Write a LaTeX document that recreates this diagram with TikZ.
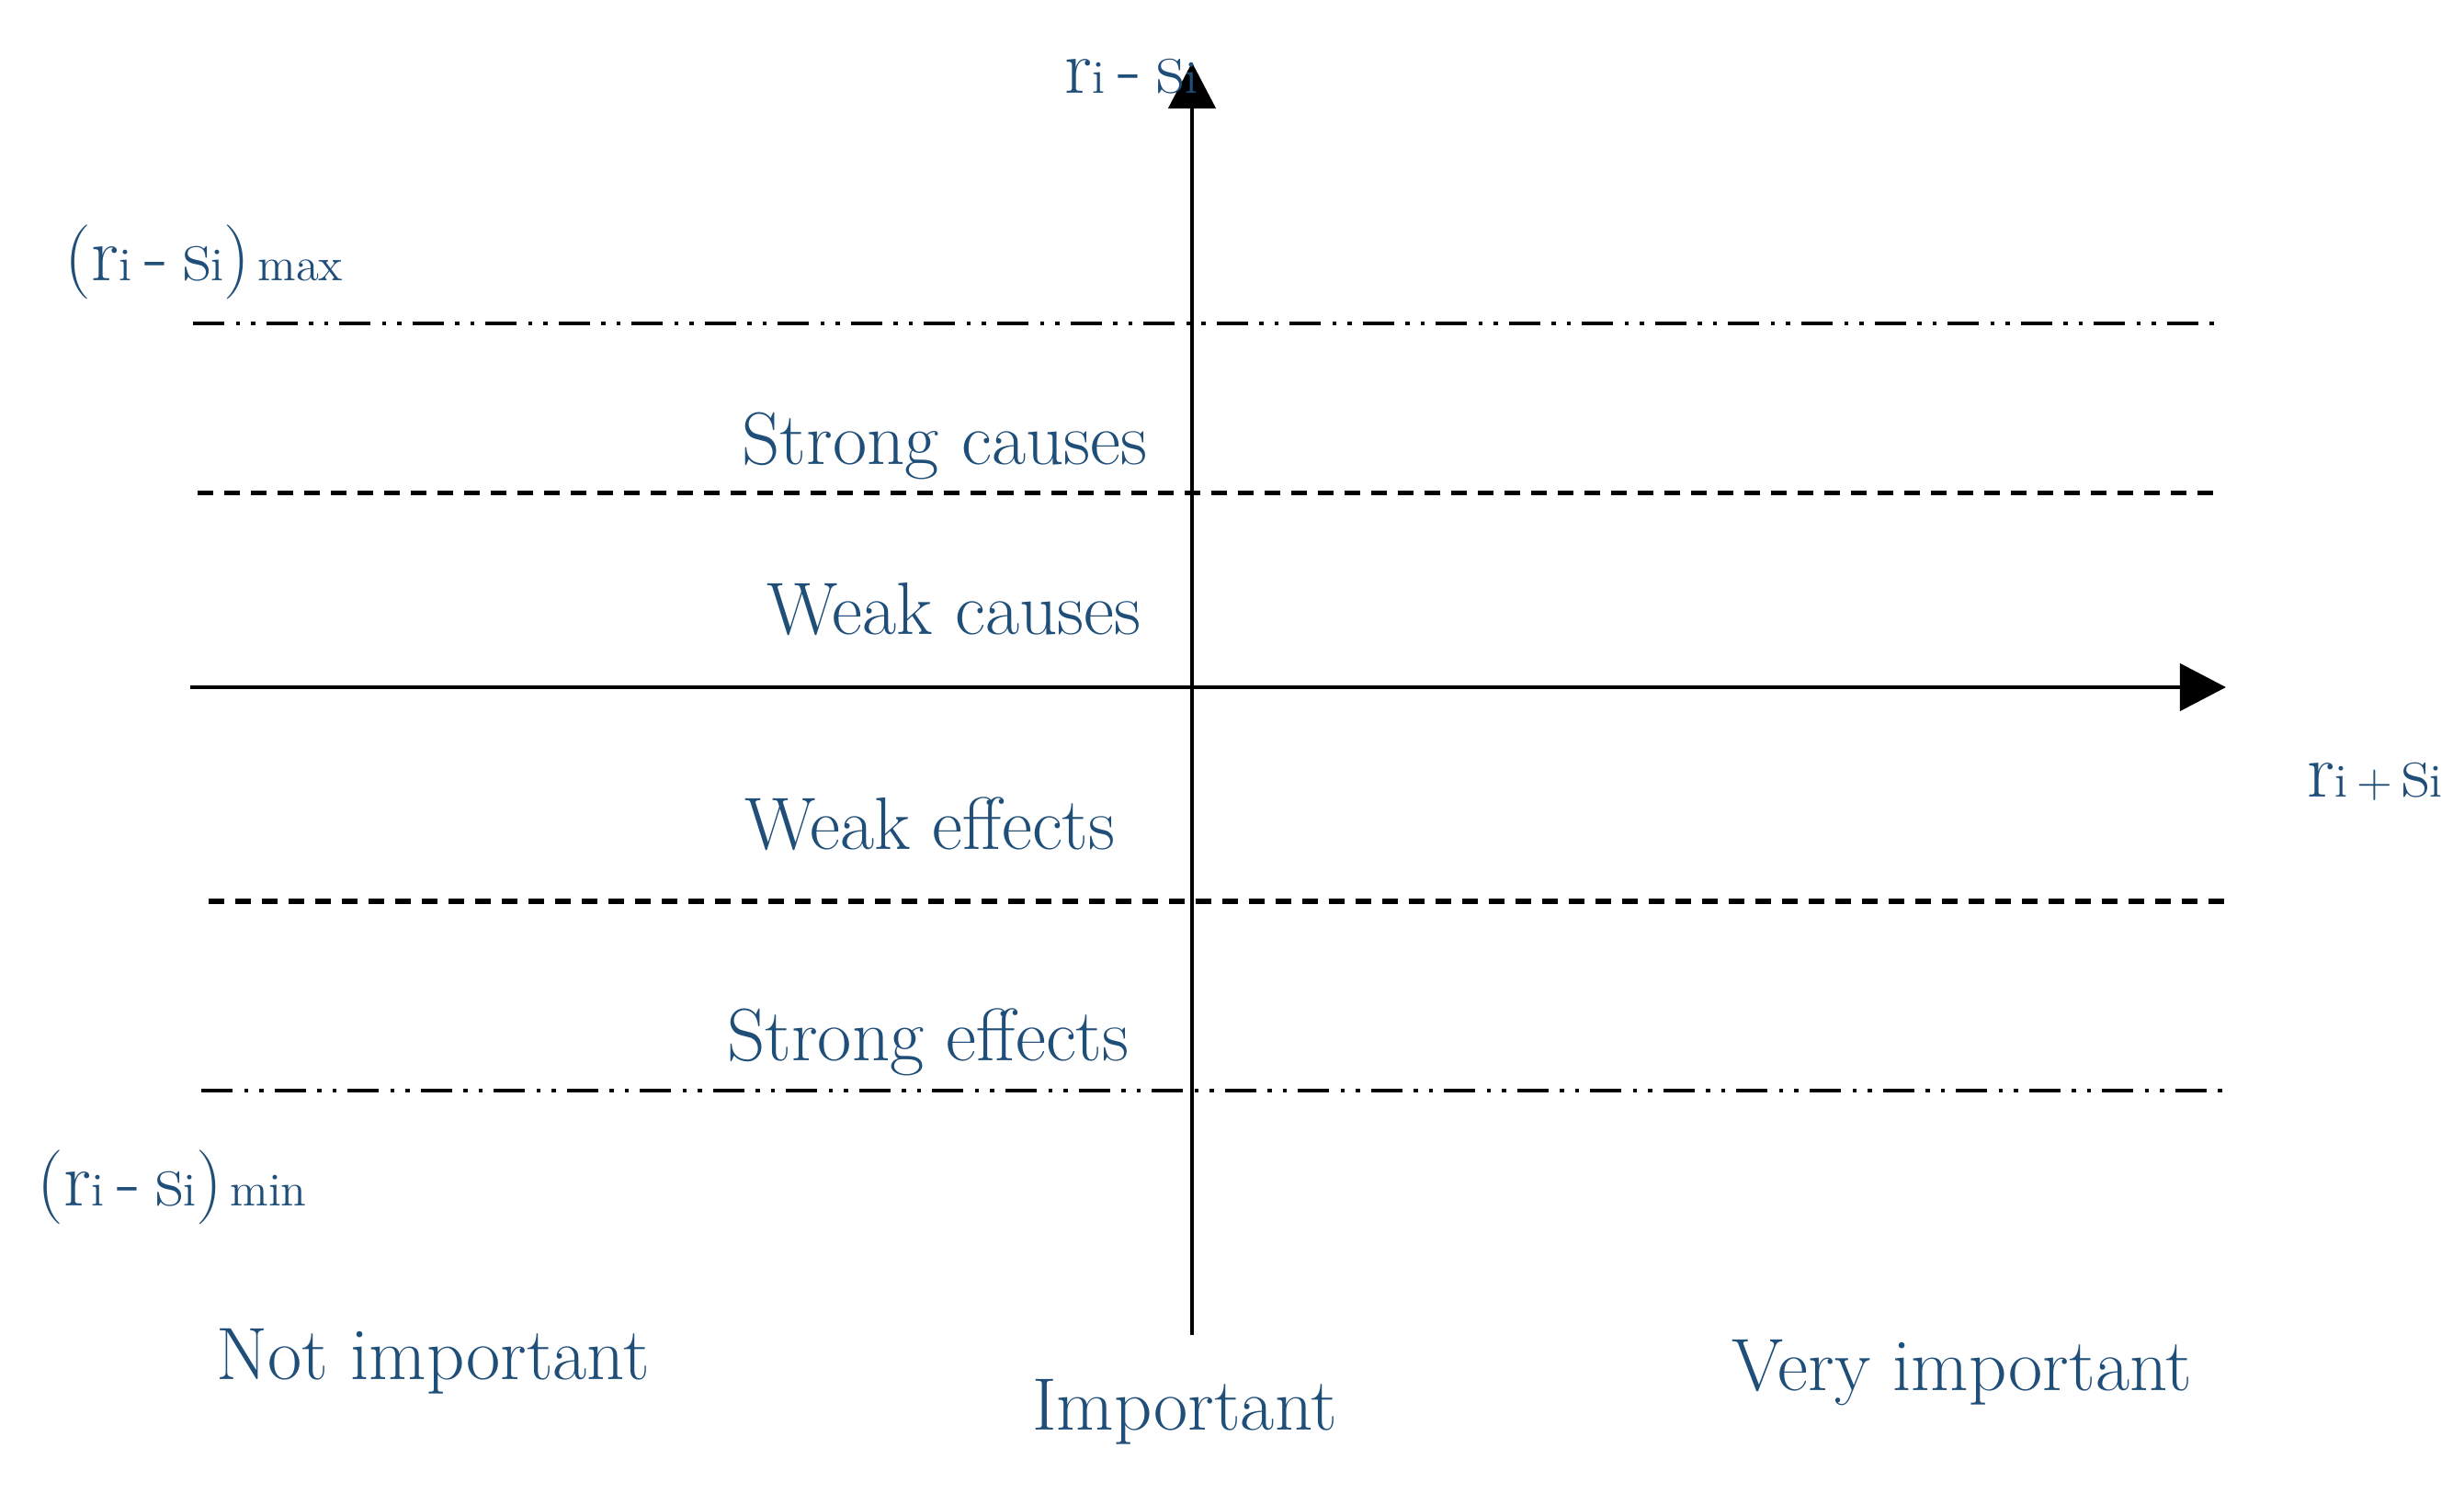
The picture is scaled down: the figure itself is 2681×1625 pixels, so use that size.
\documentclass[tikz,border=0pt]{standalone}
\usetikzlibrary{arrows.meta}
\definecolor{txtblue}{RGB}{31,78,121}
\newcommand{\bodyf}{\fontsize{23}{27}\selectfont}
\newcommand{\bigf}{\fontsize{24}{28}\selectfont}
\newcommand{\smf}{\fontsize{14.5}{17}\selectfont}
\newcommand{\rmsi}{{\bigf r}{\smf i}\hspace{0.14cm}{\bigf -}\hspace{0.17cm}{\bigf s}{\smf i}}
\newcommand{\rpsi}{{\bigf r}{\smf i\hspace{0.1cm}+\hspace{0.1cm}}{\bigf s}{\smf i}}
\tikzset{
  lbl/.style={text=txtblue, inner sep=0pt, font=\bodyf},
  axisline/.style={line width=0.045cm, -{Triangle[length=0.5cm,width=0.51cm]}},
  ddline/.style={line width=0.045cm, dash pattern=on 0.34cm off 0.125cm on 0.045cm off 0.12cm on 0.045cm off 0.12cm},
  dline/.style={line width=0.05cm, dash pattern=on 0.17cm off 0.12cm}
}
\begin{document}
\begin{tikzpicture}[x=0.01cm,y=-0.01cm]
\useasboundingbox (0,0) rectangle (2681,1625);
% axes
\coordinate (vb) at (1297,1453);
\coordinate (vt) at (1297,68);
\coordinate (hl) at (207,748);
\coordinate (hr) at (2422,748);
\draw[axisline] (vb) -- (vt);
\draw[axisline] (hl) -- (hr);
% boundary lines
\coordinate (m1) at (210,352);  \coordinate (m2) at (2413,352);
\coordinate (d1) at (215,537);  \coordinate (d2) at (2420,537);
\coordinate (e1) at (227,981);  \coordinate (e2) at (2432,981);
\coordinate (n1) at (219,1187); \coordinate (n2) at (2421,1187);
\draw[ddline] (m1) -- (m2);
\draw[dline] (d1) -- (d2);
\draw[dline] (e1) -- (e2);
\draw[ddline] (n1) -- (n2);
% labels
\node[lbl, anchor=base west] (ylab) at (1158,102) {\rmsi};
\node[lbl, anchor=base west] (xlab) at (2510,867) {\rpsi};
\node[lbl, anchor=base west] (maxlab) at (70,306) {(\rmsi)\hspace{0.08cm}{\smf max}};
\node[lbl, anchor=base west] (minlab) at (40,1312) {(\rmsi)\hspace{0.08cm}{\smf min}};
\node[lbl, anchor=base] (sc) at (1028,506) {Strong causes};
\node[lbl, anchor=base] (wc) at (1038,691) {Weak causes};
\node[lbl, anchor=base] (we) at (1012,925) {Weak effects};
\node[lbl, anchor=base] (se) at (1010,1154) {Strong effects};
\node[lbl, anchor=base] (ni) at (471,1501) {Not important};
\node[lbl, anchor=base] (im) at (1289,1556) {Important};
\node[lbl, anchor=base] (vi) at (2135,1513) {Very important};
\end{tikzpicture}
\end{document}
